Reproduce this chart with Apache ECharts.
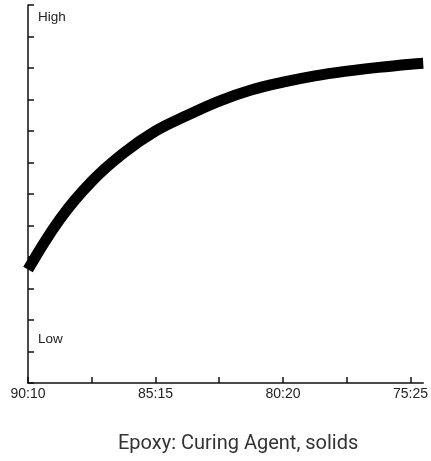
<!DOCTYPE html>
<html>
<head>
<meta charset="utf-8">
<style>html,body{margin:0;padding:0;background:#fff}#c{width:431px;height:461px}</style>
<script src="https://cdn.jsdelivr.net/npm/echarts@6/dist/echarts.min.js"></script>
</head>
<body>
<div id="c"></div>
<script>
// Data
const ratioX = [0, 0.5, 1, 1.5, 2, 2.5, 3, 3.5, 4, 4.5, 5, 5.5, 6, 6.2];
const propertyY = [3.6, 5.2, 6.4, 7.3, 8.0, 8.5, 8.95, 9.3, 9.55, 9.75, 9.9, 10.02, 10.12, 10.15];
const xTickValues = [0, 1, 2, 3, 4, 5, 6];
const xLabelValues = [0, 2, 4, 6];
const xLabelTexts = ['90:10', '85:15', '80:20', '75:25'];
const yLabelValues = [1.4, 11.6];
const yLabelTexts = ['Low', 'High'];
const chartTitle = 'Epoxy: Curing Agent, solids';

const chart = echarts.init(document.getElementById('c'), null, {renderer: 'canvas'});
chart.setOption({
  animation: false,
  backgroundColor: '#fff',
  title: {
    text: chartTitle,
    left: 113, top: 429,
    textStyle: {fontFamily: 'Roboto', fontSize: 20, fontWeight: 'normal', color: '#333'}
  },
  grid: {left: 28, right: 6, top: 5, bottom: 78, containLabel: false},
  xAxis: {
    type: 'value', min: 0, max: 6.2,
    splitLine: {show: false},
    axisLine: {lineStyle: {color: '#111', width: 1.5}},
    axisTick: {inside: true, length: 6, customValues: xTickValues, lineStyle: {color: '#111', width: 1.5}},
    axisLabel: {
      customValues: xLabelValues, margin: 4,
      fontFamily: 'Liberation Sans', fontSize: 14, color: '#222',
      formatter: v => { const i = xLabelValues.indexOf(v); return i >= 0 ? xLabelTexts[i] : ''; }
    }
  },
  yAxis: {
    type: 'value', min: 0, max: 12, interval: 1,
    splitLine: {show: false},
    axisLine: {show: true, lineStyle: {color: '#111', width: 1.5}},
    axisTick: {show: true, inside: true, length: 6, lineStyle: {color: '#111', width: 1.5}},
    axisLabel: {
      inside: true, customValues: yLabelValues, margin: 10,
      fontFamily: 'Liberation Sans', fontSize: 13.5, color: '#222',
      formatter: v => { const i = yLabelValues.indexOf(v); return i >= 0 ? yLabelTexts[i] : ''; }
    }
  },
  series: [{
    type: 'line',
    data: ratioX.map((x, i) => [x, propertyY[i]]),
    smooth: 0.4,
    showSymbol: false,
    clip: true,
    lineStyle: {color: '#000', width: 11, cap: 'butt', join: 'round'}
  }]
});
</script>
</body>
</html>
